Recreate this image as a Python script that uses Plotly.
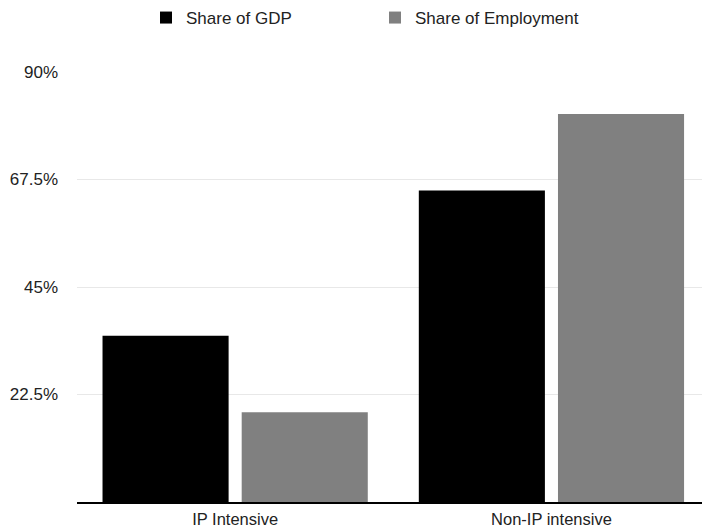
import plotly.graph_objects as go

categories = ["IP Intensive", "Non-IP intensive"]
gdp_share = [34.8, 65.2]
employment_share = [18.8, 81.2]
tick_values = [22.5, 45, 67.5, 90]
tick_labels = ["22.5%", "45%", "67.5%", "90%"]

font_family = "Liberation Sans, Arial, Helvetica, sans-serif"
text_color = "#222222"
font_size = 17

fig = go.Figure()
fig.add_trace(go.Bar(
    name="Share of GDP", x=categories, y=gdp_share,
    marker=dict(color="#000000", line=dict(width=0)),
))
fig.add_trace(go.Bar(
    name="Share of Employment", x=categories, y=employment_share,
    marker=dict(color="#808080", line=dict(width=0)),
))

fig.update_layout(
    width=702, height=530,
    margin=dict(l=77, r=0, t=72, b=28, autoexpand=False),
    paper_bgcolor="white", plot_bgcolor="white",
    barmode="group", bargap=0.12, bargroupgap=0.094,
    font=dict(family=font_family, size=font_size, color=text_color),
    showlegend=True,
    legend=dict(
        orientation="h", xref="container", yref="container",
        x=0.208, y=1.0, xanchor="left", yanchor="top",
        entrywidth=184, entrywidthmode="pixels",
        font=dict(family=font_family, size=font_size, color=text_color),
    ),
    xaxis=dict(
        range=[-0.5, 1.476], showgrid=False, zeroline=False,
        showline=True, linecolor="#000000", linewidth=1.5,
        ticks="", ticklabelstandoff=1,
        tickfont=dict(family=font_family, size=16.5, color=text_color),
    ),
    yaxis=dict(
        range=[0, 90], tickvals=tick_values, ticktext=tick_labels,
        showgrid=True, gridcolor="#e8e8e8", gridwidth=1,
        zeroline=False, showline=False, ticks="",
        ticklabelstandoff=18,
        tickfont=dict(family=font_family, size=font_size, color=text_color),
    ),
)

fig.write_html("out.html")
